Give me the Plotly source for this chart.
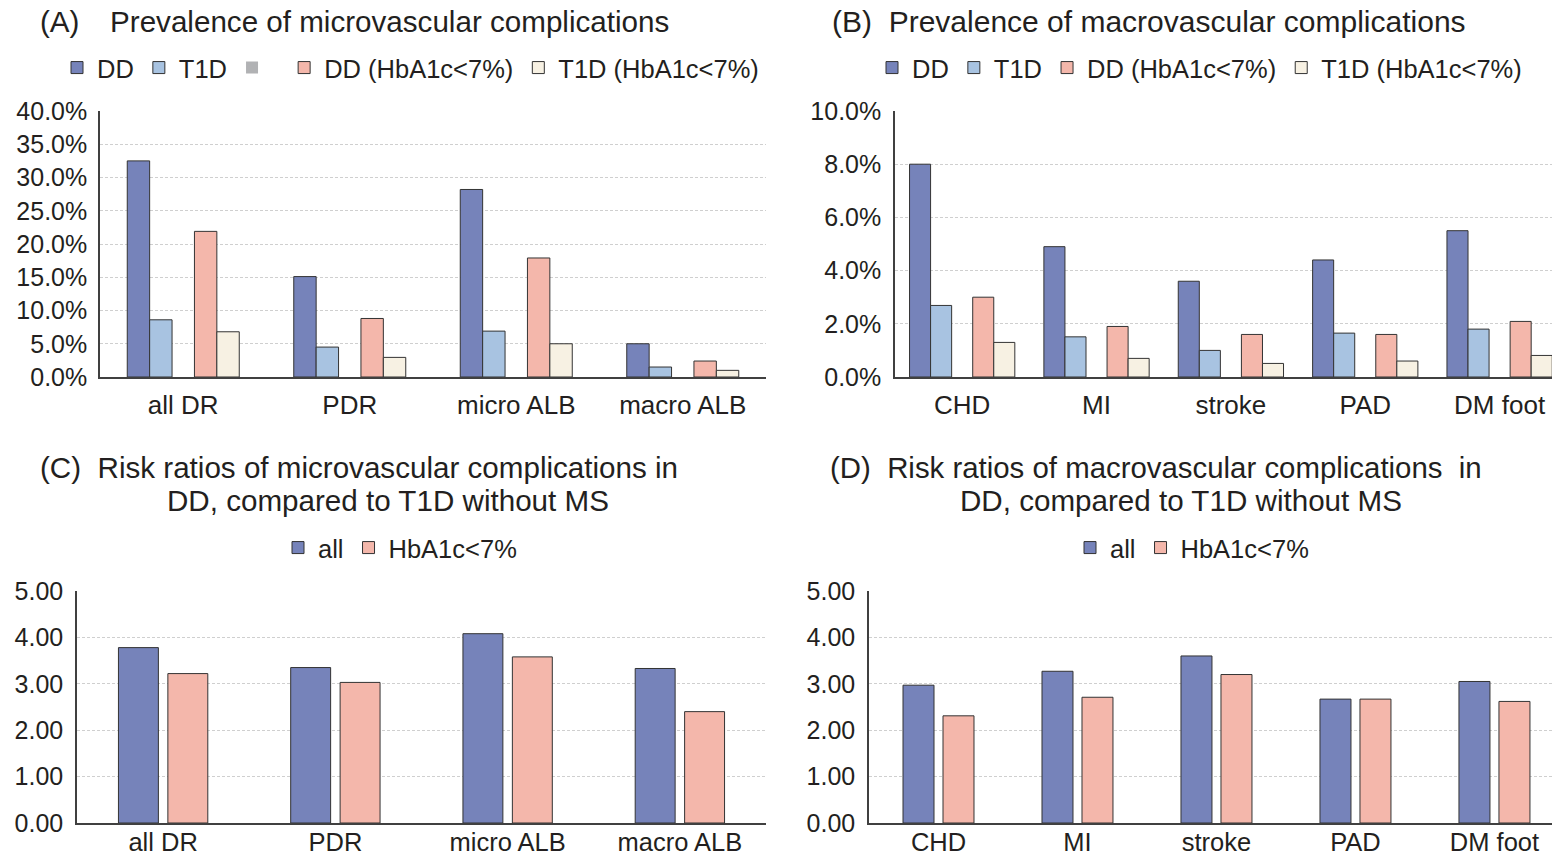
import plotly.graph_objects as go

W, H = 1552, 859

# ---- data -------------------------------------------------------------
micro_cats = ["all DR", "PDR", "micro ALB", "macro ALB"]
macro_cats = ["CHD", "MI", "stroke", "PAD", "DM foot"]

# prevalence (%) of microvascular complications
micro_dd = [32.5, 15.1, 28.2, 5.0]
micro_t1d = [8.6, 4.5, 6.9, 1.5]
micro_blank = [0, 0, 0, 0]
micro_dd_h = [21.9, 8.8, 17.9, 2.4]
micro_t1d_h = [6.8, 2.95, 5.0, 1.0]

# prevalence (%) of macrovascular complications
macro_dd = [8.0, 4.9, 3.6, 4.4, 5.5]
macro_t1d = [2.69, 1.51, 1.0, 1.65, 1.8]
macro_blank = [0, 0, 0, 0, 0]
macro_dd_h = [3.0, 1.9, 1.6, 1.6, 2.09]
macro_t1d_h = [1.3, 0.7, 0.51, 0.6, 0.81]

# risk ratios DD vs T1D without MS
rr_micro_all = [3.78, 3.35, 4.08, 3.33]
rr_micro_h = [3.22, 3.03, 3.58, 2.40]
rr_macro_all = [2.97, 3.27, 3.60, 2.67, 3.05]
rr_macro_h = [2.31, 2.71, 3.20, 2.67, 2.62]

# ---- style ------------------------------------------------------------
FONT = "Liberation Sans, Arial, Helvetica, sans-serif"
TXT = "#231f20"
C_DD = "#7683ba"
C_T1D = "#a8c3e1"
C_GRAY = "#b1b2b4"
C_DDH = "#f4b7ab"
C_T1DH = "#f7f1e3"
EDGE = "#333333"


def px_x(p):
    return p / W


def px_y(p):
    return 1 - p / H


fig = go.Figure()


def add_bars(cats, series, xa, ya, legend, slot, bar_w, start):
    for k, (name, vals, color, show, edge) in enumerate(series):
        fig.add_trace(go.Bar(
            x=cats, y=vals, name=name,
            marker=dict(color=color, line=dict(color=EDGE, width=edge)),
            width=bar_w, offset=start + k * slot,
            xaxis=xa, yaxis=ya, legend=legend, showlegend=show,
            hoverinfo="x+y+name",
        ))


# (A) prevalence of microvascular complications: five slots per group
slotA = 22.4 / 166.5
add_bars(micro_cats, [
    ("DD", micro_dd, C_DD, True, 1),
    ("T1D", micro_t1d, C_T1D, True, 1),
    (" ", micro_blank, C_GRAY, True, 0),
    ("DD (HbA1c<7%)", micro_dd_h, C_DDH, True, 1),
    ("T1D (HbA1c<7%)", micro_t1d_h, C_T1DH, True, 1),
], "x", "y", "legend", slotA, slotA, -2.5 * slotA)

# (B) prevalence of macrovascular complications
slotB = 21 / 134
add_bars(macro_cats, [
    ("DD", macro_dd, C_DD, True, 1),
    ("T1D", macro_t1d, C_T1D, True, 1),
    (" ", macro_blank, C_GRAY, False, 0),
    ("DD (HbA1c<7%)", macro_dd_h, C_DDH, True, 1),
    ("T1D (HbA1c<7%)", macro_t1d_h, C_T1DH, True, 1),
], "x2", "y2", "legend2", slotB, slotB, -2.5 * slotB)

# (C) risk ratios, microvascular
wC, gC = 40 / 172.5, 9.5 / 172.5
add_bars(micro_cats, [
    ("all", rr_micro_all, C_DD, True, 1),
    ("HbA1c<7%", rr_micro_h, C_DDH, True, 1),
], "x3", "y3", "legend3", wC + gC, wC, -(wC + gC / 2))

# (D) risk ratios, macrovascular
wD, gD = 31 / 139, 9 / 139
add_bars(macro_cats, [
    ("all", rr_macro_all, C_DD, True, 1),
    ("HbA1c<7%", rr_macro_h, C_DDH, True, 1),
], "x4", "y4", "legend4", wD + gD, wD, -(wD + gD / 2))

# ---- axes -------------------------------------------------------------
grid = dict(showgrid=True, gridcolor="#cfcfcf", griddash="3px,2px", gridwidth=1)


def xaxis(domain, rng, standoff, anchor, size=26):
    return dict(domain=domain, range=rng, type="category", showgrid=False,
                anchor=anchor, automargin=False,
                showline=True, linecolor="#404040", linewidth=1.5, ticks="",
                tickfont=dict(size=size, color=TXT, family=FONT),
                ticklabelstandoff=standoff, zeroline=False, fixedrange=True)


def yaxis(domain, anchor, rng, dtick, fmt, suffix, standoff):
    return dict(domain=domain, anchor=anchor, range=rng, dtick=dtick,
                automargin=False,
                tickformat=fmt, ticksuffix=suffix, showline=True,
                linecolor="#404040", linewidth=1.5, ticks="", zeroline=False,
                tickfont=dict(size=25, color=TXT, family=FONT),
                ticklabelstandoff=standoff, fixedrange=True, **grid)


yA = [px_y(377), px_y(111)]
yC = [px_y(823), px_y(591)]

fig.update_layout(
    xaxis=xaxis([px_x(100), px_x(766)], [-0.5, 3.5], 4, "y"),
    yaxis=yaxis(yA, "x", [0, 40], 5, ".1f", "%", 6),
    xaxis2=xaxis([px_x(895), 1], [-0.5, 4.39], 4, "y2"),
    yaxis2=yaxis(yA, "x2", [0, 10], 2, ".1f", "%", 7),
    xaxis3=xaxis([px_x(77), px_x(766)], [-0.5, 3.5], -4, "y3", 25.5),
    yaxis3=yaxis(yC, "x3", [0, 5], 1, ".2f", "", 7),
    xaxis4=xaxis([px_x(869), 1], [-0.5, 4.414], -4, "y4", 25.5),
    yaxis4=yaxis(yC, "x4", [0, 5], 1, ".2f", "", 7),
)

# ---- legends ------------------------------------------------------------
def legend(x, y):
    return dict(orientation="h", x=x, y=y, xanchor="left", yanchor="middle",
                font=dict(size=25.5, color=TXT, family=FONT),
                bgcolor="rgba(0,0,0,0)", itemclick=False, itemdoubleclick=False,
                traceorder="normal")


fig.update_layout(
    legend=legend(px_x(57), px_y(68)),
    legend2=legend(px_x(872), px_y(68)),
    legend3=legend(px_x(278), px_y(548)),
    legend4=legend(px_x(1070), px_y(548)),
)

# ---- titles -------------------------------------------------------------
NB = "\u00a0"
titles = [
    (38, 22, "(A)" + NB * 3 + "\u2009" + "Prevalence of microvascular complications", 29.6),
    (830, 22, "(B)" + NB * 2 + "Prevalence of macrovascular complications", 30),
    (38, 467, "(C)" + NB * 2 + "Risk ratios of microvascular complications in", 29.6),
    (165, 500, "DD, compared to T1D without MS", 29.6),
    (828, 467, "(D)" + NB * 2 + "Risk ratios of macrovascular complications" + NB * 2 + "in", 29.4),
    (958, 500, "DD, compared to T1D without MS", 29.6),
]
for x, y, t, s in titles:
    fig.add_annotation(x=px_x(x), y=px_y(y), xref="paper", yref="paper",
                       text=t, showarrow=False, xanchor="left", yanchor="middle",
                       font=dict(size=s, color=TXT, family=FONT))

fig.update_layout(
    width=W, height=H, margin=dict(l=0, r=0, t=0, b=0, autoexpand=False),
    barmode="overlay", paper_bgcolor="white", plot_bgcolor="white",
    font=dict(family=FONT, color=TXT),
)

fig.write_html("out.html", config={"displayModeBar": False})
